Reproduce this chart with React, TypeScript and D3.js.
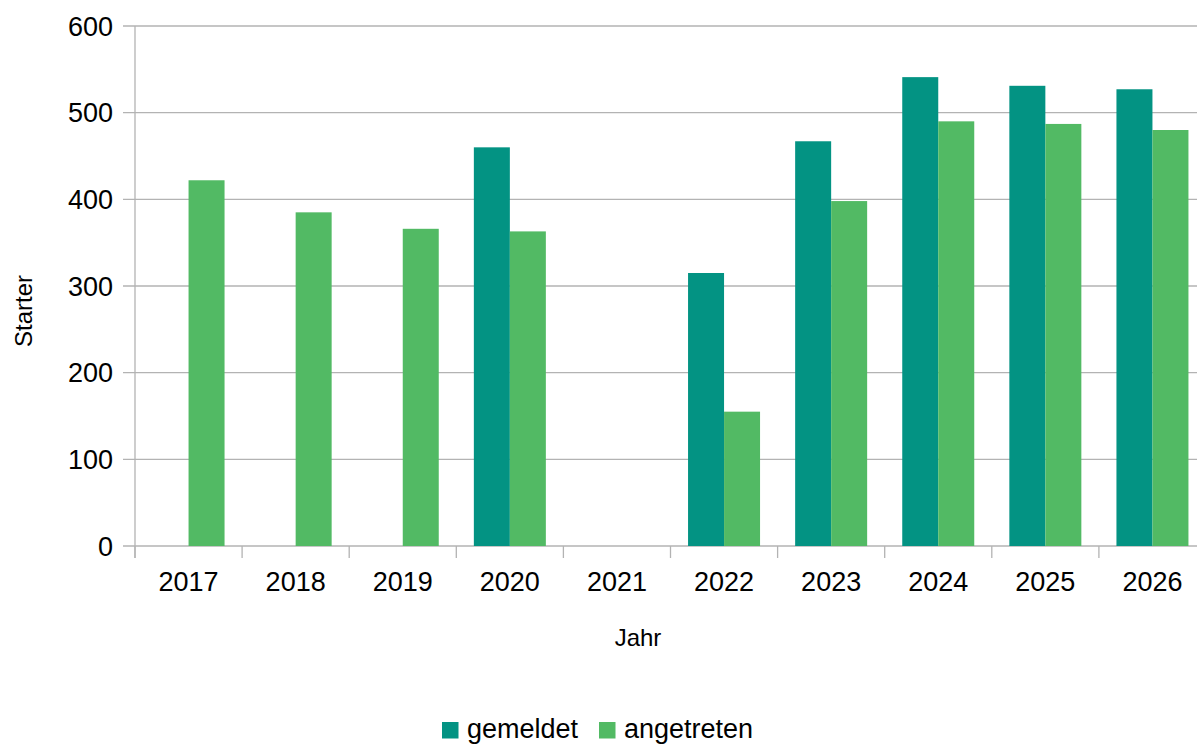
import React from "react";
import * as d3 from "d3";

const years = ["2017", "2018", "2019", "2020", "2021", "2022", "2023", "2024", "2025", "2026"];
const gemeldet: (number | null)[] = [null, null, null, 460, null, 315, 467, 541, 531, 527];
const angetreten: (number | null)[] = [422, 385, 366, 363, null, 155, 398, 490, 487, 480];
const seriesNames = ["gemeldet", "angetreten"];
const seriesColors = ["#039383", "#52BA64"];
const yTicks = [0, 100, 200, 300, 400, 500, 600];

const W = 1197;
const H = 744;
const left = 135;
const right = 1206;
const top = 26;
const bottom = 546;
const font = "'Liberation Sans', Arial, sans-serif";
const gridColor = "#b3b3b3";

export default function App() {
  const x0 = d3.scaleBand<string>().domain(years).range([left, right]).paddingInner(0).paddingOuter(0);
  const x1 = d3.scaleBand<string>().domain(seriesNames).range([0, x0.bandwidth()]).paddingInner(0).paddingOuter(0.4875);
  const y = d3.scaleLinear().domain([0, 600]).range([bottom, top]);
  const data = [gemeldet, angetreten];

  return (
    <svg width={W} height={H} style={{ position: "absolute", left: 0, top: 0, background: "#fff" }}>
      {yTicks.map((t) => (
        <g key={t}>
          <line x1={left - 12} x2={right} y1={y(t)} y2={y(t)} stroke={gridColor} strokeWidth={1.3} />
          <text x={113} y={y(t)} dy="0.36em" textAnchor="end" fontFamily={font} fontSize={27} fill="#000">
            {t}
          </text>
        </g>
      ))}
      <line x1={left} x2={left} y1={top} y2={bottom + 12} stroke={gridColor} strokeWidth={1.3} />
      {years.map((yr, i) => (
        <g key={yr}>
          <line x1={x0(yr)!} x2={x0(yr)!} y1={bottom} y2={bottom + 12} stroke={gridColor} strokeWidth={1.3} />
          <text x={x0(yr)! + x0.bandwidth() / 2} y={591} textAnchor="middle" fontFamily={font} fontSize={27} fill="#000">
            {yr}
          </text>
          {data.map((s, si) =>
            s[i] == null ? null : (
              <rect
                key={si}
                x={x0(yr)! + x1(seriesNames[si])!}
                y={y(s[i] as number)}
                width={x1.bandwidth()}
                height={bottom - y(s[i] as number)}
                fill={seriesColors[si]}
              />
            )
          )}
        </g>
      ))}
      <text x={638} y={646} textAnchor="middle" fontFamily={font} fontSize={24} fill="#000">
        Jahr
      </text>
      <text transform={`translate(32, 311) rotate(-90)`} textAnchor="middle" fontFamily={font} fontSize={24} fill="#000">
        Starter
      </text>
      <g>
        <rect x={442} y={722} width={16.5} height={16.5} fill={seriesColors[0]} />
        <text x={467} y={738} fontFamily={font} fontSize={27} fill="#000">
          {seriesNames[0]}
        </text>
        <rect x={599} y={722} width={16.5} height={16.5} fill={seriesColors[1]} />
        <text x={624} y={738} fontFamily={font} fontSize={27} fill="#000">
          {seriesNames[1]}
        </text>
      </g>
    </svg>
  );
}
